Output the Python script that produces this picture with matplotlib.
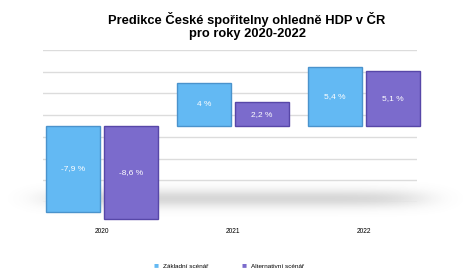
import numpy as np
import matplotlib
matplotlib.use("Agg")
import matplotlib.pyplot as plt

years = ["2020", "2021", "2022"]
zakladni = [-7.9, 4.0, 5.4]
alternativni = [-8.6, 2.2, 5.1]
series_names = ["Základní scénář", "Alternativní scénář"]
title = "Predikce České spořitelny ohledně HDP v ČR\npro roky 2020-2022"

plt.rcParams['font.family'] = ['Liberation Sans', 'DejaVu Sans']

W, H = 476, 269
fig = plt.figure(figsize=(W / 100, H / 100), dpi=100)
fig.patch.set_facecolor("white")

# soft floor shadow (decoration)
bg = fig.add_axes([0, 0, 1, 1], zorder=0)
bg.set_xlim(0, W); bg.set_ylim(H, 0); bg.axis("off")
xx, yy = np.meshgrid(np.arange(W), np.arange(H))
shadow = (np.exp(-((xx - 235) / 190.0) ** 8 - ((yy - 198) / 9.0) ** 2) * 0.28)
rgba = np.zeros((H, W, 4))
rgba[..., :3] = 0.45
rgba[..., 3] = shadow
bg.imshow(rgba, extent=(0, W, H, 0), interpolation="bilinear")

ax = fig.add_axes([43 / W, 1 - 202 / H, 374 / W, 152 / H], zorder=1)
ax.patch.set_alpha(0)
ax.set_xlim(-0.45, 2.405)
ax.set_ylim(-7, 7)
for s in ax.spines.values():
    s.set_visible(False)
ax.set_yticks(np.arange(-7, 8, 2))
ax.yaxis.grid(True, color="#dcdcdc", lw=1.0)
ax.set_axisbelow(True)
ax.tick_params(axis="y", left=False, labelleft=False)

x = np.arange(len(years))
w = 0.41
off = 0.22
blue, blue_e = "#63b9f3", "#4a93cc"
purple, purple_e = "#7b6bcc", "#5747a8"
b1 = ax.bar(x - off, zakladni, w, color=blue, edgecolor=blue_e, lw=1.0,
            clip_on=False, zorder=3, label=series_names[0])
b2 = ax.bar(x + off, alternativni, w, color=purple, edgecolor=purple_e, lw=1.0,
            clip_on=False, zorder=3, label=series_names[1])

def fmt(v):
    s = f"{v:.1f}".replace(".", ",")
    if s.endswith(",0"):
        s = s[:-2]
    return s + " %"

for bars, vals in ((b1, zakladni), (b2, alternativni)):
    for r, v in zip(bars, vals):
        ax.text(r.get_x() + r.get_width() / 2, v / 2, fmt(v), ha="center",
                va="center", color="white", fontsize=6, zorder=4)

ax.set_xticks(x)
ax.set_xticklabels(years, fontsize=4.8)
ax.tick_params(axis="x", bottom=False, pad=15)

fig.text(247 / W, 1 - 26 / H, title, ha="center", va="center",
         multialignment="center", fontsize=9.3, fontweight="bold",
         linespacing=1.2)

# legend
fig.text(153 / W, 1 - 266 / H, "■", color=blue, fontsize=6, va="center")
fig.text(163 / W, 1 - 266 / H, series_names[0], fontsize=4.6, va="center")
fig.text(241 / W, 1 - 266 / H, "■", color=purple, fontsize=6, va="center")
fig.text(251 / W, 1 - 266 / H, series_names[1], fontsize=4.6, va="center")

fig.savefig("out.png", dpi=100, facecolor="white")
